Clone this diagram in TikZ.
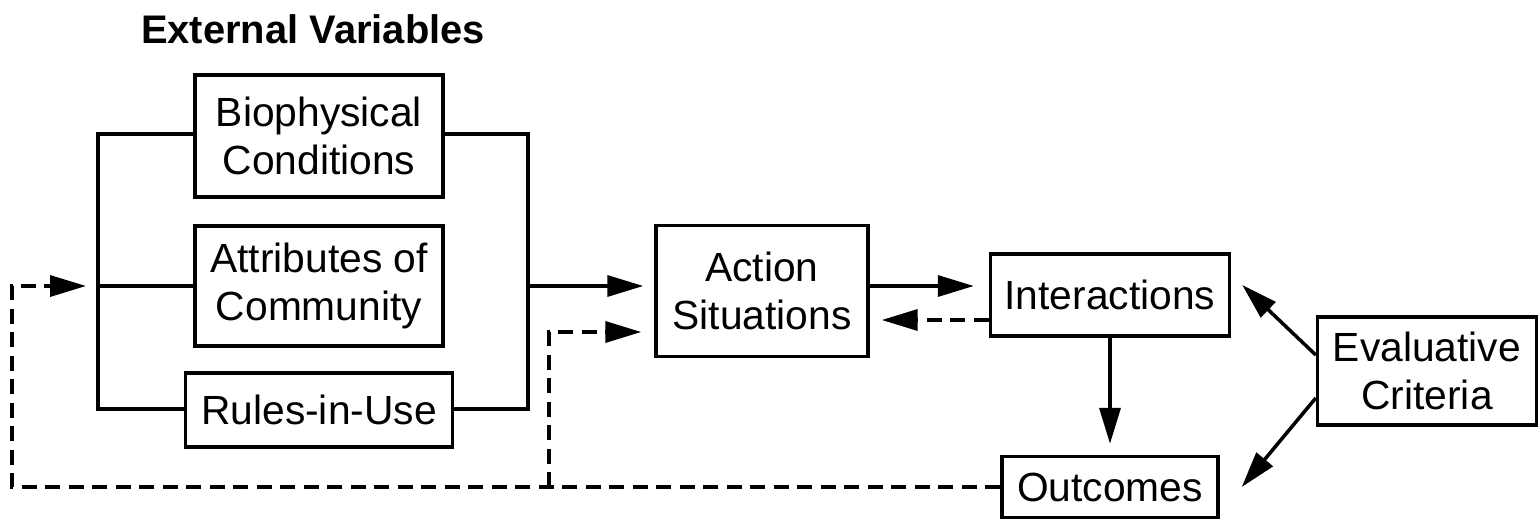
\documentclass[tikz,border=0pt]{standalone}
\usepackage{fontspec}
\setmainfont{Liberation Sans}
\usetikzlibrary{arrows.meta}

\begin{document}
\begin{tikzpicture}[x=0.02cm,y=-0.02cm,
        box/.style={draw,line width=2pt,align=center,inner sep=0pt,font=\fontsize{23.2}{27}\selectfont},
        conn/.style={line width=2pt},
        tip/.style={-{Triangle[length=0.72cm,width=0.42cm]}},
        fb/.style={dash pattern=on 0.3cm off 0.17cm}]
        \useasboundingbox (0,0) rectangle (1540,520);
        \node[font=\bfseries\fontsize{22.7}{27}\selectfont] (ext) at (313,29) {External Variables};
        \node[box,minimum width=4.96cm,minimum height=2.44cm] (bio) at (319,136) {Biophysical\\Conditions};
        \node[box,minimum width=4.96cm,minimum height=2.4cm] (att) at (319,286) {Attributes of\\Community};
        \node[box,minimum width=5.34cm,minimum height=1.48cm] (rul) at (319,410) {Rules-in-Use};
        \node[box,minimum width=4.24cm,minimum height=2.62cm] (act) at (762,291) {Action\\Situations};
        \node[box,minimum width=4.78cm,minimum height=1.64cm] (int) at (1110,295) {Interactions};
        \node[box,minimum width=4.32cm,minimum height=1.22cm] (out) at (1110,487) {Outcomes};
        \node[box,minimum width=4.38cm,minimum height=2.16cm] (eva) at (1427,371) {Evaluative\\Criteria};
        % brackets round the external variables
        \coordinate (lt) at (98,134);
        \coordinate (lm) at (98,286);
        \coordinate (lb) at (98,409);
        \coordinate (rt) at (528,134);
        \coordinate (rm) at (528,286);
        \coordinate (rb) at (528,409);
        \draw[conn] (bio.west |- lt) -- (lt) -- (lb) -- (rul.west |- lb);
        \draw[conn] (lm) -- (att.west);
        \draw[conn] (bio.east |- rt) -- (rt) -- (rb) -- (rul.east |- rb);
        \draw[conn,tip,shorten >=0.22cm] (rm) -- (act.west |- rm);
        % action situation and interactions
        \draw[conn,tip,shorten >=0.3cm] (act.east |- rm) -- (int.west |- rm);
        \coordinate (fa) at (0,320);
        \draw[conn,fb,tip,shorten >=0.24cm] (int.west |- fa) -- (act.east |- fa);
        \draw[conn,tip,shorten >=0.22cm] (int.south) -- (out.north);
        \draw[conn,tip] ([yshift=0.32cm]eva.west) -- ([xshift=0.22cm,yshift=0.2cm]int.east);
        \draw[conn,tip] ([yshift=-0.54cm]eva.west) -- ([xshift=0.44cm]out.east);
        % feedback from outcomes
        \coordinate (fl) at (12,487);
        \coordinate (fm) at (549,487);
        \coordinate (fc) at (549,332);
        \draw[conn,fb,tip,shorten >=0.24cm] (out.west) -- (fl) |- (lm);
        \draw[conn,fb,tip,shorten >=0.26cm] (fm) -- (fc) -- (act.west |- fc);
    \end{tikzpicture}
\end{document}
